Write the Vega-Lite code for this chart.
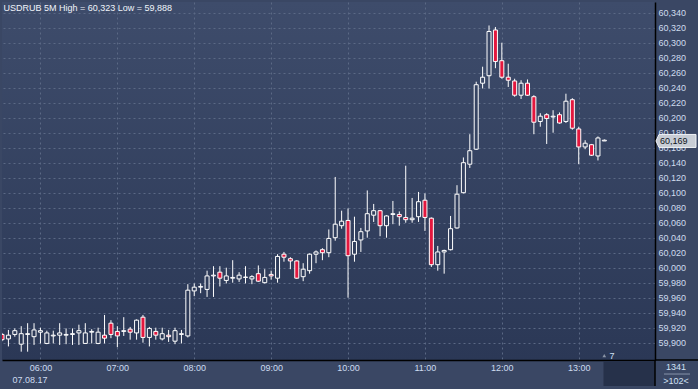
{
  "$schema": "https://vega.github.io/schema/vega-lite/v6.json",
  "width": 653,
  "height": 358,
  "autosize": "none",
  "padding": {"left": 2, "top": 2, "right": 43, "bottom": 29},
  "background": "#3a4764",
  "config": {
    "font": "Liberation Sans",
    "view": {"stroke": null, "fill": {"gradient": "linear", "x1": 0, "y1": 0, "x2": 0, "y2": 1, "stops": [{"offset": 0, "color": "#3e4c6b"}, {"offset": 1, "color": "#2b3856"}]}}
  },
  "datasets": {
    "candles": [
      {"t": "2017-08-07T05:30:00", "o": 59.911, "h": 59.913, "l": 59.902, "c": 59.904},
      {"t": "2017-08-07T05:35:00", "o": 59.905, "h": 59.917, "l": 59.895, "c": 59.910},
      {"t": "2017-08-07T05:40:00", "o": 59.911, "h": 59.919, "l": 59.908, "c": 59.916},
      {"t": "2017-08-07T05:45:00", "o": 59.898, "h": 59.922, "l": 59.888, "c": 59.912},
      {"t": "2017-08-07T05:50:00", "o": 59.911, "h": 59.926, "l": 59.888, "c": 59.912},
      {"t": "2017-08-07T05:55:00", "o": 59.908, "h": 59.926, "l": 59.897, "c": 59.917},
      {"t": "2017-08-07T06:00:00", "o": 59.914, "h": 59.920, "l": 59.899, "c": 59.916},
      {"t": "2017-08-07T06:05:00", "o": 59.899, "h": 59.916, "l": 59.898, "c": 59.913},
      {"t": "2017-08-07T06:10:00", "o": 59.909, "h": 59.916, "l": 59.899, "c": 59.910},
      {"t": "2017-08-07T06:15:00", "o": 59.910, "h": 59.926, "l": 59.897, "c": 59.913},
      {"t": "2017-08-07T06:20:00", "o": 59.910, "h": 59.919, "l": 59.898, "c": 59.911},
      {"t": "2017-08-07T06:25:00", "o": 59.911, "h": 59.919, "l": 59.897, "c": 59.912},
      {"t": "2017-08-07T06:30:00", "o": 59.913, "h": 59.924, "l": 59.897, "c": 59.916},
      {"t": "2017-08-07T06:35:00", "o": 59.899, "h": 59.926, "l": 59.8985, "c": 59.913},
      {"t": "2017-08-07T06:40:00", "o": 59.914, "h": 59.918, "l": 59.899, "c": 59.915},
      {"t": "2017-08-07T06:45:00", "o": 59.899, "h": 59.920, "l": 59.898, "c": 59.914},
      {"t": "2017-08-07T06:50:00", "o": 59.910, "h": 59.937, "l": 59.899, "c": 59.906},
      {"t": "2017-08-07T06:55:00", "o": 59.926, "h": 59.930, "l": 59.906, "c": 59.911},
      {"t": "2017-08-07T07:00:00", "o": 59.915, "h": 59.922, "l": 59.894, "c": 59.909},
      {"t": "2017-08-07T07:05:00", "o": 59.915, "h": 59.934, "l": 59.909, "c": 59.916},
      {"t": "2017-08-07T07:10:00", "o": 59.918, "h": 59.921, "l": 59.904, "c": 59.914},
      {"t": "2017-08-07T07:15:00", "o": 59.913, "h": 59.931, "l": 59.904, "c": 59.930},
      {"t": "2017-08-07T07:20:00", "o": 59.934, "h": 59.937, "l": 59.900, "c": 59.907},
      {"t": "2017-08-07T07:25:00", "o": 59.907, "h": 59.921, "l": 59.895, "c": 59.919},
      {"t": "2017-08-07T07:30:00", "o": 59.915, "h": 59.920, "l": 59.904, "c": 59.910},
      {"t": "2017-08-07T07:35:00", "o": 59.905, "h": 59.920, "l": 59.903, "c": 59.912},
      {"t": "2017-08-07T07:40:00", "o": 59.910, "h": 59.917, "l": 59.901, "c": 59.908},
      {"t": "2017-08-07T07:45:00", "o": 59.902, "h": 59.920, "l": 59.898, "c": 59.916},
      {"t": "2017-08-07T07:50:00", "o": 59.911, "h": 59.917, "l": 59.899, "c": 59.912},
      {"t": "2017-08-07T07:55:00", "o": 59.909, "h": 59.978, "l": 59.907, "c": 59.970},
      {"t": "2017-08-07T08:00:00", "o": 59.969, "h": 59.979, "l": 59.962, "c": 59.974},
      {"t": "2017-08-07T08:05:00", "o": 59.974, "h": 59.979, "l": 59.966, "c": 59.975},
      {"t": "2017-08-07T08:10:00", "o": 59.971, "h": 59.996, "l": 59.961, "c": 59.989},
      {"t": "2017-08-07T08:15:00", "o": 59.989, "h": 60.002, "l": 59.961, "c": 59.990},
      {"t": "2017-08-07T08:20:00", "o": 59.994, "h": 60.002, "l": 59.975, "c": 59.986},
      {"t": "2017-08-07T08:25:00", "o": 59.983, "h": 60.000, "l": 59.979, "c": 59.989},
      {"t": "2017-08-07T08:30:00", "o": 59.986, "h": 60.010, "l": 59.980, "c": 59.987},
      {"t": "2017-08-07T08:35:00", "o": 59.985, "h": 59.994, "l": 59.981, "c": 59.990},
      {"t": "2017-08-07T08:40:00", "o": 59.987, "h": 60.002, "l": 59.979, "c": 59.9875},
      {"t": "2017-08-07T08:45:00", "o": 59.985, "h": 59.990, "l": 59.978, "c": 59.988},
      {"t": "2017-08-07T08:50:00", "o": 59.992, "h": 60.003, "l": 59.981, "c": 59.982},
      {"t": "2017-08-07T08:55:00", "o": 59.980, "h": 59.998, "l": 59.979, "c": 59.987},
      {"t": "2017-08-07T09:00:00", "o": 59.991, "h": 59.996, "l": 59.984, "c": 59.989},
      {"t": "2017-08-07T09:05:00", "o": 59.986, "h": 60.018, "l": 59.980, "c": 60.015},
      {"t": "2017-08-07T09:10:00", "o": 60.018, "h": 60.021, "l": 60.008, "c": 60.014},
      {"t": "2017-08-07T09:15:00", "o": 60.012, "h": 60.014, "l": 59.998, "c": 60.009},
      {"t": "2017-08-07T09:20:00", "o": 60.009, "h": 60.010, "l": 59.985, "c": 59.986},
      {"t": "2017-08-07T09:25:00", "o": 59.988, "h": 60.006, "l": 59.982, "c": 59.998},
      {"t": "2017-08-07T09:30:00", "o": 59.996, "h": 60.019, "l": 59.992, "c": 60.018},
      {"t": "2017-08-07T09:35:00", "o": 60.018, "h": 60.023, "l": 60.006, "c": 60.021},
      {"t": "2017-08-07T09:40:00", "o": 60.024, "h": 60.026, "l": 60.010, "c": 60.020},
      {"t": "2017-08-07T09:45:00", "o": 60.020, "h": 60.051, "l": 60.014, "c": 60.039},
      {"t": "2017-08-07T09:50:00", "o": 60.040, "h": 60.121, "l": 60.036, "c": 60.058},
      {"t": "2017-08-07T09:55:00", "o": 60.056, "h": 60.076, "l": 60.052, "c": 60.062},
      {"t": "2017-08-07T10:00:00", "o": 60.063, "h": 60.079, "l": 59.960, "c": 60.016},
      {"t": "2017-08-07T10:05:00", "o": 60.018, "h": 60.068, "l": 60.008, "c": 60.035},
      {"t": "2017-08-07T10:10:00", "o": 60.037, "h": 60.053, "l": 60.021, "c": 60.048},
      {"t": "2017-08-07T10:15:00", "o": 60.049, "h": 60.103, "l": 60.040, "c": 60.072},
      {"t": "2017-08-07T10:20:00", "o": 60.070, "h": 60.085, "l": 60.061, "c": 60.076},
      {"t": "2017-08-07T10:25:00", "o": 60.076, "h": 60.077, "l": 60.042, "c": 60.056},
      {"t": "2017-08-07T10:30:00", "o": 60.056, "h": 60.070, "l": 60.040, "c": 60.069},
      {"t": "2017-08-07T10:35:00", "o": 60.071, "h": 60.089, "l": 60.058, "c": 60.072},
      {"t": "2017-08-07T10:40:00", "o": 60.071, "h": 60.075, "l": 60.056, "c": 60.068},
      {"t": "2017-08-07T10:45:00", "o": 60.067, "h": 60.136, "l": 60.060, "c": 60.064},
      {"t": "2017-08-07T10:50:00", "o": 60.064, "h": 60.093, "l": 60.060, "c": 60.066},
      {"t": "2017-08-07T10:55:00", "o": 60.068, "h": 60.101, "l": 60.061, "c": 60.088},
      {"t": "2017-08-07T11:00:00", "o": 60.090, "h": 60.099, "l": 60.049, "c": 60.067},
      {"t": "2017-08-07T11:05:00", "o": 60.066, "h": 60.067, "l": 60.001, "c": 60.004},
      {"t": "2017-08-07T11:10:00", "o": 60.004, "h": 60.029, "l": 59.996, "c": 60.021},
      {"t": "2017-08-07T11:15:00", "o": 60.021, "h": 60.024, "l": 59.992, "c": 60.023},
      {"t": "2017-08-07T11:20:00", "o": 60.024, "h": 60.069, "l": 60.023, "c": 60.052},
      {"t": "2017-08-07T11:25:00", "o": 60.053, "h": 60.110, "l": 60.052, "c": 60.098},
      {"t": "2017-08-07T11:30:00", "o": 60.100, "h": 60.147, "l": 60.099, "c": 60.140},
      {"t": "2017-08-07T11:35:00", "o": 60.138, "h": 60.178, "l": 60.133, "c": 60.156},
      {"t": "2017-08-07T11:40:00", "o": 60.158, "h": 60.248, "l": 60.157, "c": 60.244},
      {"t": "2017-08-07T11:45:00", "o": 60.246, "h": 60.268, "l": 60.239, "c": 60.254},
      {"t": "2017-08-07T11:50:00", "o": 60.256, "h": 60.323, "l": 60.239, "c": 60.315},
      {"t": "2017-08-07T11:55:00", "o": 60.317, "h": 60.321, "l": 60.266, "c": 60.275},
      {"t": "2017-08-07T12:00:00", "o": 60.276, "h": 60.300, "l": 60.252, "c": 60.254},
      {"t": "2017-08-07T12:05:00", "o": 60.254, "h": 60.272, "l": 60.241, "c": 60.250},
      {"t": "2017-08-07T12:10:00", "o": 60.249, "h": 60.252, "l": 60.228, "c": 60.230},
      {"t": "2017-08-07T12:15:00", "o": 60.230, "h": 60.250, "l": 60.225, "c": 60.246},
      {"t": "2017-08-07T12:20:00", "o": 60.246, "h": 60.251, "l": 60.229, "c": 60.230},
      {"t": "2017-08-07T12:25:00", "o": 60.228, "h": 60.230, "l": 60.178, "c": 60.194},
      {"t": "2017-08-07T12:30:00", "o": 60.195, "h": 60.206, "l": 60.188, "c": 60.202},
      {"t": "2017-08-07T12:35:00", "o": 60.204, "h": 60.206, "l": 60.165, "c": 60.199},
      {"t": "2017-08-07T12:40:00", "o": 60.201, "h": 60.210, "l": 60.180, "c": 60.202},
      {"t": "2017-08-07T12:45:00", "o": 60.204, "h": 60.207, "l": 60.192, "c": 60.193},
      {"t": "2017-08-07T12:50:00", "o": 60.195, "h": 60.232, "l": 60.193, "c": 60.222},
      {"t": "2017-08-07T12:55:00", "o": 60.224, "h": 60.226, "l": 60.184, "c": 60.186},
      {"t": "2017-08-07T13:00:00", "o": 60.185, "h": 60.188, "l": 60.138, "c": 60.161},
      {"t": "2017-08-07T13:05:00", "o": 60.161, "h": 60.170, "l": 60.158, "c": 60.166},
      {"t": "2017-08-07T13:10:00", "o": 60.164, "h": 60.165, "l": 60.149, "c": 60.150},
      {"t": "2017-08-07T13:15:00", "o": 60.149, "h": 60.175, "l": 60.143, "c": 60.173},
      {"t": "2017-08-07T13:20:00", "o": 60.169, "h": 60.171, "l": 60.169, "c": 60.170}
    ]
  },
  "encoding": {
    "x": {
      "field": "t",
      "type": "temporal",
      "scale": {"domain": [{"year": 2017, "month": 8, "date": 7, "hours": 5, "minutes": 30}, {"year": 2017, "month": 8, "date": 7, "hours": 13, "minutes": 59, "seconds": 30}], "padding": 0},
      "axis": {
        "title": "07.08.17",
        "format": "%H:%M",
        "values": [
          {"year": 2017, "month": 8, "date": 7, "hours": 6},
          {"year": 2017, "month": 8, "date": 7, "hours": 7},
          {"year": 2017, "month": 8, "date": 7, "hours": 8},
          {"year": 2017, "month": 8, "date": 7, "hours": 9},
          {"year": 2017, "month": 8, "date": 7, "hours": 10},
          {"year": 2017, "month": 8, "date": 7, "hours": 11},
          {"year": 2017, "month": 8, "date": 7, "hours": 12},
          {"year": 2017, "month": 8, "date": 7, "hours": 13}
        ],
        "tickCount": 20,
        "grid": true,
        "gridColor": "#5b6985",
        "gridDash": [2, 3],
        "gridOpacity": 1,
        "ticks": false,
        "domain": true,
        "domainColor": "#000000",
        "domainWidth": 1.5,
        "labelColor": "#cddcf0",
        "labelFontSize": 9,
        "labelPadding": 3,
        "labelFlush": false,
        "labelOverlap": false,
        "titleColor": "#cddcf0",
        "titleFontSize": 9,
        "titleFontWeight": "normal",
        "titleAnchor": "start",
        "titleAlign": "left",
        "titleBaseline": "middle",
        "titleX": 10,
        "titleY": 19
      }
    }
  },
  "layer": [
    {
      "data": {"name": "candles"},
      "mark": {"type": "rule", "color": "#ffffff", "strokeWidth": 1, "clip": true},
      "encoding": {
        "y": {
          "field": "l",
          "type": "quantitative",
          "scale": {"domain": [59.8769, 60.3543], "nice": false, "zero": false},
          "axis": {
            "orient": "right",
            "title": null,
            "values": [59.9, 59.92, 59.94, 59.96, 59.98, 60, 60.02, 60.04, 60.06, 60.08, 60.1, 60.12, 60.14, 60.16, 60.18, 60.2, 60.22, 60.24, 60.26, 60.28, 60.3, 60.32, 60.34],
            "tickCount": 40,
            "labelExpr": "replace(format(datum.value, '.3f'), '.', ',')",
            "grid": true,
            "gridColor": "#5b6985",
            "gridDash": [2, 3],
            "gridOpacity": 1,
            "ticks": false,
            "domain": true,
            "domainColor": "#000000",
            "domainWidth": 1.5,
            "labelColor": "#cfdcee",
            "labelFontSize": 9,
            "labelPadding": 3,
            "labelAlign": "left",
            "labelBaseline": "middle",
            "labelFlush": false,
            "labelOverlap": false
          }
        },
        "y2": {"field": "h"}
      }
    },
    {
      "data": {"name": "candles"},
      "mark": {"type": "bar", "size": 4, "stroke": "#ffffff", "strokeWidth": 1, "clip": true},
      "encoding": {
        "y": {"field": "o", "type": "quantitative"},
        "y2": {"field": "c"},
        "fill": {
          "condition": {"test": "datum.c < datum.o", "value": "#e3173e"},
          "field": "o",
          "type": "quantitative",
          "scale": {"domain": [59.8769, 60.3543], "range": ["#2b3856", "#3e4c6b"], "interpolate": "rgb"},
          "legend": null
        }
      }
    },
    {
      "data": {"values": [{"t": "2017-08-07T05:30:00", "p": 60.3543, "label": "USDRUB 5M High = 60,323 Low = 59,888"}]},
      "mark": {"type": "text", "align": "left", "baseline": "alphabetic", "dx": 1.5, "dy": 8.5, "fontSize": 9, "color": "#f0f4fa", "clip": false},
      "encoding": {"y": {"field": "p", "type": "quantitative"}, "text": {"field": "label"}}
    },
    {
      "data": {"values": [{"t": "2017-08-07T13:19:20", "t2": "2017-08-07T13:59:30", "p": 59.8756, "p2": 59.8422}]},
      "mark": {"type": "rect", "fill": "#26314a", "clip": false},
      "encoding": {"x2": {"field": "t2"}, "y": {"field": "p", "type": "quantitative"}, "y2": {"field": "p2"}}
    },
    {
      "data": {"values": [{"t": "2017-08-07T13:59:30", "p": 59.8769, "p2": 59.8422}]},
      "mark": {"type": "rule", "color": "#000000", "strokeWidth": 1.5, "clip": false},
      "encoding": {"y": {"field": "p", "type": "quantitative"}, "y2": {"field": "p2"}}
    },
    {
      "data": {"values": [{"t": "2017-08-07T13:59:30", "t2": "2017-08-07T14:34:00", "p": 59.8769}]},
      "mark": {"type": "rule", "color": "#000000", "strokeWidth": 1.5, "clip": false},
      "encoding": {"x2": {"field": "t2"}, "y": {"field": "p", "type": "quantitative"}}
    },
    {
      "data": {"values": [{"t": "2017-08-07T14:06:30", "t2": "2017-08-07T14:26:48", "p": 59.8582}]},
      "mark": {"type": "rule", "color": "#8694aa", "strokeWidth": 1, "clip": false},
      "encoding": {"x2": {"field": "t2"}, "y": {"field": "p", "type": "quantitative"}}
    },
    {
      "data": {"values": [{"t": "2017-08-07T13:19:56", "p": 59.8826}]},
      "mark": {"type": "point", "shape": "triangle-up", "size": 14, "filled": true, "fill": "#8a94a6", "opacity": 1, "clip": false},
      "encoding": {"y": {"field": "p", "type": "quantitative"}}
    },
    {
      "data": {"values": [
        {"t": "2017-08-07T13:25:57", "p": 59.8826, "label": "7"},
        {"t": "2017-08-07T14:15:54", "p": 59.8676, "label": "1341"},
        {"t": "2017-08-07T14:15:54", "p": 59.8489, "label": ">102<"}
      ]},
      "mark": {"type": "text", "align": "center", "baseline": "middle", "fontSize": 9, "color": "#d0e0f4", "clip": false},
      "encoding": {"y": {"field": "p", "type": "quantitative"}, "text": {"field": "label"}}
    },
    {
      "data": {"values": [{"t": "2017-08-07T13:59:30", "p": 60.169, "label": "60,169"}]},
      "mark": {"type": "point", "shape": "M1,0L4,-6.5H41V6.5H4Z", "size": 4, "filled": true, "fill": "#c8cdd5", "stroke": "#eef1f5", "strokeWidth": 1, "opacity": 1, "clip": false},
      "encoding": {"y": {"field": "p", "type": "quantitative"}}
    },
    {
      "data": {"values": [{"t": "2017-08-07T13:59:30", "p": 60.169, "label": "60,169"}]},
      "mark": {"type": "text", "align": "left", "baseline": "middle", "dx": 5, "fontSize": 9, "color": "#0e141c", "clip": false},
      "encoding": {"y": {"field": "p", "type": "quantitative"}, "text": {"field": "label"}}
    }
  ]
}
